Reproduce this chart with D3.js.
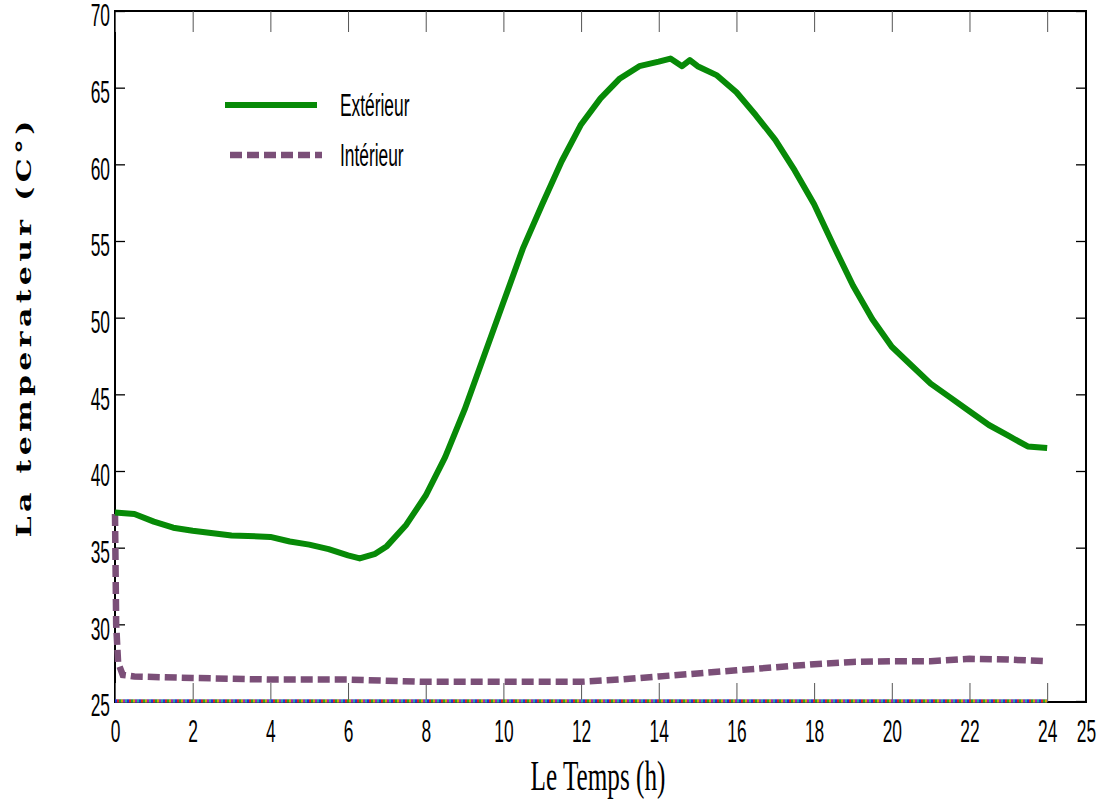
<!DOCTYPE html>
<html>
<head>
<meta charset="utf-8">
<script src="https://cdn.jsdelivr.net/npm/d3@7"></script>
<style>
  body { margin: 0; background: #fff; }
</style>
</head>
<body>
<svg id="chart" width="1100" height="805"></svg>
<script>
// Extérieur (green)
const extT = [0, 0.5, 1, 1.5, 2, 3, 4, 4.5, 5, 5.5, 6, 6.3, 6.7, 7, 7.5, 8, 8.5, 9, 9.5, 10,
  10.5, 11, 11.5, 12, 12.5, 13, 13.5, 14, 14.3, 14.6, 14.8, 15, 15.5, 16, 16.5, 17, 17.5, 18,
  18.5, 19, 19.5, 20, 20.5, 21, 21.5, 22, 22.5, 23, 23.5, 24];
const extV = [37.3, 37.2, 36.7, 36.3, 36.1, 35.8, 35.7, 35.4, 35.2, 34.9, 34.5, 34.3, 34.6, 35.1, 36.5, 38.4, 40.9, 44.0, 47.5, 51.0,
  54.5, 57.4, 60.2, 62.6, 64.3, 65.6, 66.4, 66.7, 66.9, 66.4, 66.8, 66.4, 65.8, 64.7, 63.2, 61.6, 59.6, 57.4,
  54.7, 52.1, 49.9, 48.1, 46.9, 45.7, 44.8, 43.9, 43.0, 42.3, 41.6, 41.5];

// Intérieur (purple, dashed)
const intT = [0, 0.03, 0.08, 0.2, 0.5, 2, 4, 6, 8, 10, 12, 13, 14, 15, 16, 17, 18, 19, 20, 21, 22, 23, 24];
const intV = [37.2, 30, 27.5, 26.7, 26.6, 26.5, 26.4, 26.4, 26.25, 26.25, 26.25, 26.4, 26.6, 26.8, 27.0, 27.2, 27.4, 27.55, 27.6, 27.6, 27.75, 27.7, 27.6];

// flat reference lines at 25 (multi-coloured dotted trace along the bottom)
const baseT = [0, 24];
const baseV = [25, 25];

const xTicks = [0, 2, 4, 6, 8, 10, 12, 14, 16, 18, 20, 22, 24, 25];
const yTicks = [25, 30, 35, 40, 45, 50, 55, 60, 65, 70];
const legendLabels = ['Extérieur', 'Intérieur'];

const svg = d3.select('#chart');
const pLeft = 115, pRight = 1086, pTop = 11, pBottom = 702;

const xScale = d3.scaleLinear().domain([0, 25]).range([pLeft, pRight]);
const yScale = d3.scaleLinear().domain([25, 70]).range([701, pTop]);

const green = '#078a07';
const purple = '#7b4f78';
const narrow = 'scale(0.56,1)';

// frame
svg.append('rect')
  .attr('x', pLeft).attr('y', pTop)
  .attr('width', pRight - pLeft).attr('height', pBottom - pTop)
  .attr('fill', 'none').attr('stroke', '#000').attr('stroke-width', 2);

// bottom axis, ticks pointing inside
const xAxis = d3.axisBottom(xScale).tickValues(xTicks).tickSize(-19).tickFormat(d3.format('d'));
const xg = svg.append('g').attr('transform', `translate(0,${pBottom})`).call(xAxis);
xg.select('.domain').remove();
xg.selectAll('line').attr('stroke', '#555').attr('stroke-width', 1);
xg.selectAll('text')
  .attr('y', 40).attr('dy', 0)
  .attr('transform', narrow)
  .attr('font-family', 'Liberation Sans, Arial, sans-serif')
  .attr('font-size', 31).attr('fill', '#000');
xg.selectAll('.tick').filter(d => d === 25).select('line').remove();

// top axis, ticks only
const xTop = d3.axisTop(xScale).tickValues(xTicks.filter(d => d < 25)).tickSize(-21).tickFormat('');
const xtg = svg.append('g').attr('transform', `translate(0,${pTop})`).call(xTop);
xtg.select('.domain').remove();
xtg.selectAll('line').attr('stroke', '#555').attr('stroke-width', 1);

// left axis
const yAxis = d3.axisLeft(yScale).tickValues(yTicks).tickSize(-10).tickPadding(0).tickFormat(d3.format('d'));
const yg = svg.append('g').attr('transform', `translate(${pLeft},0)`).call(yAxis);
yg.select('.domain').remove();
yg.selectAll('line').attr('stroke', '#000').attr('stroke-width', 1.3);
yg.selectAll('text')
  .attr('x', -5 / 0.56).attr('dy', '0.48em')
  .attr('transform', narrow)
  .attr('font-family', 'Liberation Sans, Arial, sans-serif')
  .attr('font-size', 31).attr('fill', '#000');

// right axis, ticks only
const yRight = d3.axisRight(yScale).tickValues(yTicks).tickSize(-10).tickFormat('');
const yrg = svg.append('g').attr('transform', `translate(${pRight},0)`).call(yRight);
yrg.select('.domain').remove();
yrg.selectAll('line').attr('stroke', '#000').attr('stroke-width', 1.3);

// lines
const line = d3.line().x(d => xScale(d[0])).y(d => yScale(d[1]));
const extData = extT.map((t, i) => [t, extV[i]]);
const intData = intT.map((t, i) => [t, intV[i]]);
const baseData = baseT.map((t, i) => [t, baseV[i]]);

// multi-coloured dotted base trace
const baseColors = ['#2233dd', '#dd2222', '#22aa22', '#ccaa00', '#aa22aa', '#22aaaa'];
svg.append('path').datum(baseData)
  .attr('d', line).attr('fill', 'none')
  .attr('stroke', '#5560aa').attr('stroke-width', 3);
baseColors.forEach((c, i) => {
  svg.append('path').datum(baseData)
    .attr('d', line).attr('fill', 'none')
    .attr('stroke', c).attr('stroke-width', 3)
    .attr('stroke-dasharray', '2,10')
    .attr('stroke-dashoffset', -2 * i);
});

svg.append('path').datum(intData)
  .attr('d', line).attr('fill', 'none')
  .attr('stroke', purple).attr('stroke-width', 6.5)
  .attr('stroke-dasharray', '12,5');

svg.append('path').datum(extData)
  .attr('d', line).attr('fill', 'none')
  .attr('stroke', green).attr('stroke-width', 6)
  .attr('stroke-linejoin', 'round');

// legend
const legend = svg.append('g');
const legY = [105, 155];
legend.append('line')
  .attr('x1', 225).attr('x2', 317).attr('y1', legY[0]).attr('y2', legY[0])
  .attr('stroke', green).attr('stroke-width', 6);
legend.append('line')
  .attr('x1', 230).attr('x2', 322).attr('y1', legY[1]).attr('y2', legY[1])
  .attr('stroke', purple).attr('stroke-width', 6.5).attr('stroke-dasharray', '12,5');
legendLabels.forEach((t, i) => {
  legend.append('text')
    .attr('transform', `translate(340,${legY[i] + 11}) scale(0.56,1)`)
    .attr('font-family', 'Liberation Sans, Arial, sans-serif')
    .attr('font-size', 31).attr('fill', '#000')
    .text(t);
});

// axis titles
svg.append('text')
  .attr('transform', 'translate(598,790) scale(0.6,1)')
  .attr('text-anchor', 'middle')
  .attr('font-family', 'Liberation Serif, Times New Roman, serif')
  .attr('font-size', 42).attr('fill', '#000')
  .text('Le Temps (h)');

svg.append('text')
  .attr('transform', 'translate(31,329) rotate(-90) scale(1,0.68)')
  .attr('text-anchor', 'middle')
  .attr('font-family', 'DejaVu Serif, serif')
  .attr('font-weight', 'bold')
  .attr('font-size', 30).attr('fill', '#000')
  .attr('textLength', 417).attr('lengthAdjust', 'spacing')
  .text('La temperateur (C°)');
</script>
</body>
</html>
